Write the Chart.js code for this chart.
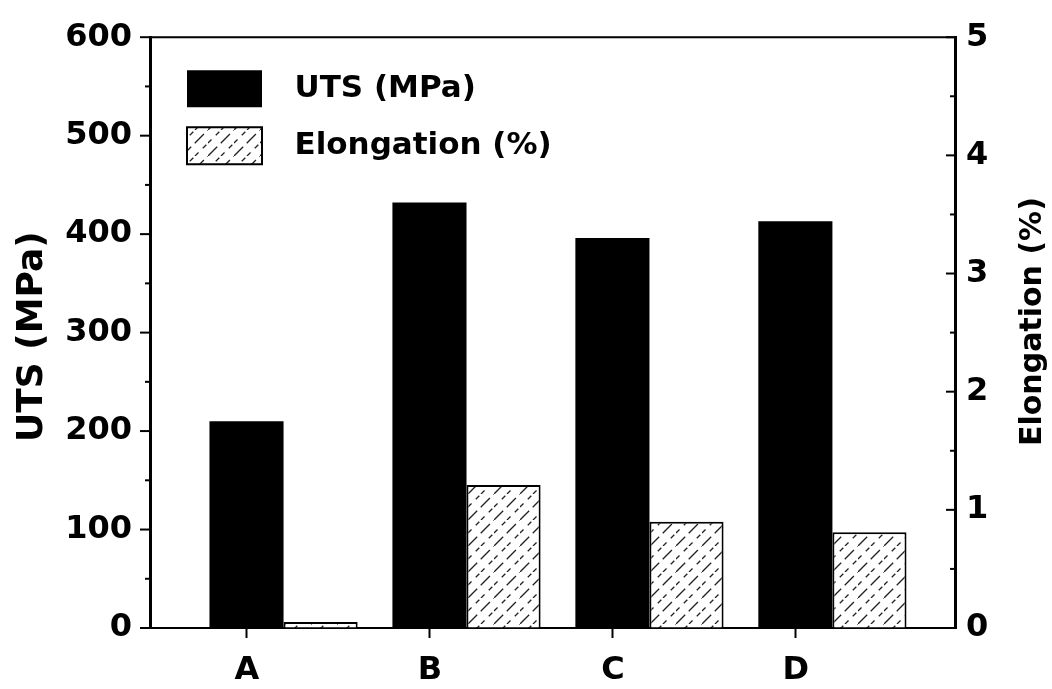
<!DOCTYPE html>
<html>
<head>
<meta charset="utf-8">
<script src="https://cdn.jsdelivr.net/npm/chart.js@4.4.1/dist/chart.umd.min.js"></script>
<style>
  html, body { margin: 0; padding: 0; background: #fff; }
  #wrap { width: 1052px; height: 689px; }
</style>
</head>
<body>
<div id="wrap"><canvas id="chart" width="1052" height="689"></canvas></div>
<script>
// values
const categories = ['A', 'B', 'C', 'D']
const utsValues = [210, 432, 396, 413]
const elongationValues = [0.05, 1.21, 0.90, 0.81]
const utsTicks = [0, 100, 200, 300, 400, 500, 600]
const elongationTicks = [0, 1, 2, 3, 4, 5]

// the scanned lettering is wide and heavy; DejaVu bold gets closest
const FONT = '"DejaVu Sans", sans-serif'
Chart.defaults.font.family = FONT
Chart.defaults.font.weight = 'bold'
Chart.defaults.color = '#000'

const canvas = document.getElementById('chart')

// dashed diagonal hatch like the scanned figure
const makeHatch = (ctx) => {
  const s = 26
  const tile = document.createElement('canvas')
  tile.width = s
  tile.height = s
  const g = tile.getContext('2d')
  g.fillStyle = '#fff'
  g.fillRect(0, 0, s, s)
  g.strokeStyle = '#222'
  g.lineWidth = 1.3
  const line = (x1, y1, x2, y2) => { g.beginPath(); g.moveTo(x1, y1); g.lineTo(x2, y2); g.stroke() }
  g.setLineDash([13, 5])
  line(0, s, s, 0)
  g.setLineDash([5, 6])
  line(0, s / 2, s / 2, 0)
  line(s / 2, s, s, s / 2)
  return ctx.createPattern(tile, 'repeat')
}
const hatch = makeHatch(canvas.getContext('2d'))

const halfBar = 0.2 // tick labels sit under the UTS bar

const frameAndTicks = {
  id: 'frameAndTicks',
  afterDraw (chart) {
    const { ctx, chartArea: a, scales } = chart
    ctx.save()
    ctx.strokeStyle = '#000'
    ctx.lineWidth = 2
    ctx.beginPath()
    ctx.moveTo(a.left, a.top)
    ctx.lineTo(a.right, a.top)
    ctx.stroke()
    const mark = (x, y, len) => {
      ctx.beginPath()
      ctx.moveTo(x, y)
      ctx.lineTo(x + len, y)
      ctx.stroke()
    }
    utsTicks.forEach((v, i) => {
      mark(a.left, scales.y.getPixelForValue(v), -10)
      if (i < utsTicks.length - 1) mark(a.left, scales.y.getPixelForValue((v + utsTicks[i + 1]) / 2), -5)
    })
    elongationTicks.forEach((v, i) => {
      mark(a.right, scales.y1.getPixelForValue(v), -9)
      if (i < elongationTicks.length - 1) mark(a.right, scales.y1.getPixelForValue((v + elongationTicks[i + 1]) / 2), -5)
    })

    // both axis titles read bottom-to-top in the original
    const vTitle = (text, x, y, size) => {
      ctx.save()
      ctx.translate(x, y)
      ctx.rotate(-Math.PI / 2)
      ctx.fillStyle = '#000'
      ctx.font = `bold ${size}px ${FONT}`
      ctx.textAlign = 'center'
      ctx.textBaseline = 'middle'
      ctx.fillText(text, 0, 0)
      ctx.restore()
    }
    const mid = (a.top + a.bottom) / 2
    vTitle('UTS (MPa)', 33, mid + 4, 36)
    vTitle('Elongation (%)', chart.width - 19, mid - 11, 30)
    ctx.restore()
  },
}

const legendSpot = {
  id: 'legendSpot',
  afterLayout (chart) {
    const lg = chart.legend
    const pad = lg.options.labels.padding
    lg.left = chart.chartArea.left + 37 - pad
    lg.top = chart.chartArea.top + 33 - pad
    lg.right = lg.left + lg.width
    lg.bottom = chart.chartArea.bottom
  },
}

new Chart(canvas, {
  type: 'bar',
  data: {
    datasets: [
      {
        label: 'UTS (MPa)',
        data: utsValues.map((v, i) => ({ x: i + 1, y: v })),
        backgroundColor: '#000',
        borderWidth: 0,
        yAxisID: 'y',
      },
      {
        label: 'Elongation (%)',
        data: elongationValues.map((v, i) => ({ x: i + 1, y: v })),
        backgroundColor: hatch,
        borderColor: '#000',
        borderWidth: 2,
        yAxisID: 'y1',
      },
    ],
  },
  options: {
    responsive: false,
    animation: false,
    devicePixelRatio: 1,
    categoryPercentage: 0.81,
    barPercentage: 1,
    layout: { padding: { top: 37, left: 0, right: 0, bottom: 0 } },
    plugins: {
      tooltip: { enabled: false },
      legend: {
        position: 'chartArea',
        align: 'start',
        labels: {
          boxWidth: 75,
          boxHeight: 37,
          padding: 20,
          color: '#000',
          font: { size: 31, weight: 'bold' },
          generateLabels: (chart) => Chart.defaults.plugins.legend.labels.generateLabels(chart)
            .map(l => ({ ...l, text: ' \u2009' + l.text })),
        },
      },
    },
    scales: {
      x: {
        type: 'linear',
        min: 0.27,
        max: 4.67,
        offset: false,
        bounds: 'data',
        grid: { offset: false, drawOnChartArea: false, tickLength: 10, tickWidth: 2, tickColor: '#000' },
        border: { color: '#000', width: 2 },
        ticks: {
          autoSkip: false,
          padding: 13,
          font: { size: 32, weight: 'bold' },
          callback: (v, i) => categories[i],
        },
        afterBuildTicks: (s) => { s.ticks = categories.map((c, i) => ({ value: i + 1 - halfBar })) },
        afterFit: (s) => { s.height = 61 },
      },
      y: {
        position: 'left',
        min: utsTicks[0],
        max: utsTicks[utsTicks.length - 1],
        grid: { drawOnChartArea: false, drawTicks: false },
        border: { color: '#000', width: 3 },
        ticks: { padding: 18, font: { size: 32, weight: 'bold' } },
        afterBuildTicks: (s) => { s.ticks = utsTicks.map(v => ({ value: v })) },
        afterFit: (s) => { s.width = 150 },
      },
      y1: {
        position: 'right',
        min: elongationTicks[0],
        max: elongationTicks[elongationTicks.length - 1],
        grid: { drawOnChartArea: false, drawTicks: false },
        border: { color: '#000', width: 3 },
        ticks: { padding: 11, font: { size: 32, weight: 'bold' } },
        afterBuildTicks: (s) => { s.ticks = elongationTicks.map(v => ({ value: v })) },
        afterFit: (s) => { s.width = 97 },
      },
    },
  },
  plugins: [legendSpot, frameAndTicks],
})
</script>
</body>
</html>
